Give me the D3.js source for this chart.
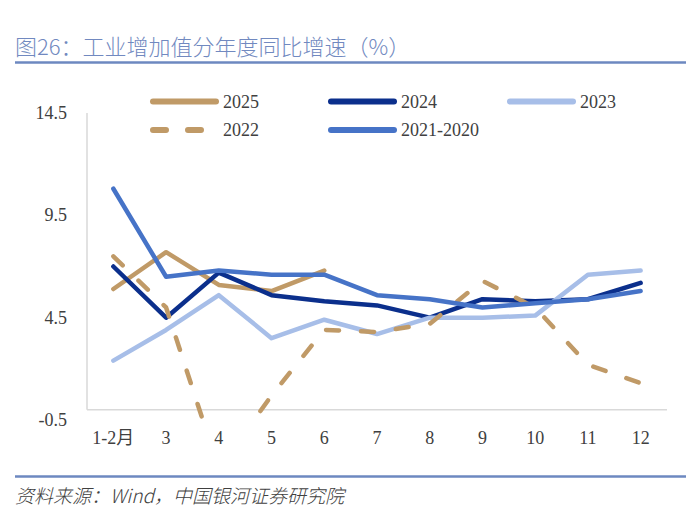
<!DOCTYPE html>
<html>
<head>
<meta charset="utf-8">
<script src="https://cdn.jsdelivr.net/npm/d3@7"></script>
<style>
  body { margin: 0; background: #fff; }
  svg { display: block; }
</style>
</head>
<body>
<div id="chart"></div>
<script>
// Data
const months = ["1-2月", "3", "4", "5", "6", "7", "8", "9", "10", "11", "12"];
const s2025 = [5.9, 7.7, 6.1, 5.8, 6.8, null, null, null, null, null, null];
const s2024 = [7.0, 4.5, 6.7, 5.6, 5.3, 5.1, 4.5, 5.4, 5.3, 5.4, 6.2];
const s2023 = [2.4, 3.9, 5.6, 3.5, 4.4, 3.7, 4.5, 4.5, 4.6, 6.6, 6.8];
const s2022 = [7.5, 5.0, -2.9, 0.7, 3.9, 3.8, 4.2, 6.3, 5.0, 2.2, 1.3];
const s2021 = [10.8, 6.5, 6.8, 6.6, 6.6, 5.6, 5.4, 5.0, 5.2, 5.4, 5.8];
const yTicks = [14.5, 9.5, 4.5, -0.5];

const series = [
    { name: "2025", values: s2025, color: "#C09A67", dash: null },
    { name: "2024", values: s2024, color: "#0B2F8C", dash: null },
    { name: "2023", values: s2023, color: "#A7BEE8", dash: null },
    { name: "2022", values: s2022, color: "#C09A67", dash: "13 22" },
    { name: "2021-2020", values: s2021, color: "#4673C7", dash: null }
];

const width = 700, height = 520;
const plot = { left: 87, right: 667, top: 113, bottom: 420 };
const numFont = "'Liberation Serif', 'Noto Sans CJK SC', serif";

const svg = d3.select("#chart").append("svg")
    .attr("width", width)
    .attr("height", height);

// Title and frame lines
svg.append("text")
    .attr("x", 15)
    .attr("y", 45)
    .attr("dominant-baseline", "central")
    .style("font-family", "'Noto Sans CJK SC', sans-serif")
    .style("font-size", "22px")
    .style("font-weight", "300")
    .style("fill", "#7189C0")
    .text("图26：工业增加值分年度同比增速（%）");

svg.append("line")
    .attr("x1", 15).attr("x2", 686)
    .attr("y1", 62.5).attr("y2", 62.5)
    .style("stroke", "#6D88C0")
    .style("stroke-width", 2.5);

svg.append("line")
    .attr("x1", 15).attr("x2", 686)
    .attr("y1", 476.5).attr("y2", 476.5)
    .style("stroke", "#6D88C0")
    .style("stroke-width", 2.5);

svg.append("text")
    .attr("x", 15)
    .attr("y", 494)
    .attr("dominant-baseline", "central")
    .style("font-family", "'Noto Sans CJK SC', sans-serif")
    .style("font-size", "19px")
    .style("font-style", "italic")
    .style("font-weight", "300")
    .style("fill", "#404040")
    .text("资料来源：Wind，中国银河证券研究院");

// Scales
const x = d3.scalePoint()
    .domain(months)
    .range([plot.left, plot.right])
    .padding(0.5);

const y = d3.scaleLinear()
    .domain([-0.5, 14.5])
    .range([plot.bottom, plot.top]);

// Axes
svg.append("line")
    .attr("x1", plot.left).attr("x2", plot.left)
    .attr("y1", plot.top).attr("y2", y(0))
    .style("stroke", "#D9D9D9")
    .style("stroke-width", 1.5);

svg.append("line")
    .attr("x1", plot.left).attr("x2", plot.right)
    .attr("y1", y(0)).attr("y2", y(0))
    .style("stroke", "#D9D9D9")
    .style("stroke-width", 1.5);

svg.selectAll(".ytick")
    .data(yTicks)
    .enter().append("text")
    .attr("class", "ytick")
    .attr("x", 67)
    .attr("y", d => y(d))
    .attr("text-anchor", "end")
    .attr("dominant-baseline", "central")
    .style("font-family", numFont)
    .style("font-size", "18px")
    .style("fill", "#404040")
    .text(d => d);

svg.selectAll(".xtick")
    .data(months)
    .enter().append("text")
    .attr("class", "xtick")
    .attr("x", d => x(d))
    .attr("y", 438)
    .attr("text-anchor", "middle")
    .attr("dominant-baseline", "central")
    .style("font-family", numFont)
    .style("font-size", "18px")
    .style("fill", "#404040")
    .text(d => d);

// Clip so the April 2022 dip is cut at the plot bottom
svg.append("clipPath")
    .attr("id", "plotClip")
    .append("rect")
    .attr("x", plot.left)
    .attr("y", plot.top - 20)
    .attr("width", plot.right - plot.left)
    .attr("height", plot.bottom - plot.top + 20);

const line = d3.line()
    .defined(d => d != null)
    .x((d, i) => x(months[i]))
    .y(d => y(d));

const lines = svg.append("g").attr("clip-path", "url(#plotClip)");

series.forEach(s => {
    lines.append("path")
        .datum(s.values)
        .attr("d", line)
        .style("fill", "none")
        .style("stroke", s.color)
        .style("stroke-width", 4.5)
        .style("stroke-linejoin", "round")
        .style("stroke-linecap", "round")
        .style("stroke-dasharray", s.dash);
});

// Legend
const legendPos = [
    { x: 150, y: 101.5 },
    { x: 328, y: 101.5 },
    { x: 507, y: 101.5 },
    { x: 150, y: 130 },
    { x: 328, y: 130 }
];

const legend = svg.selectAll(".legend")
    .data(series)
    .enter().append("g")
    .attr("class", "legend")
    .attr("transform", (d, i) => `translate(${legendPos[i].x}, ${legendPos[i].y})`);

legend.append("line")
    .attr("x1", 3).attr("x2", 66)
    .attr("y1", 0).attr("y2", 0)
    .style("stroke", d => d.color)
    .style("stroke-width", 6)
    .style("stroke-linecap", "round")
    .style("stroke-dasharray", d => d.dash);

legend.append("text")
    .attr("x", 73)
    .attr("y", 0)
    .attr("dominant-baseline", "central")
    .style("font-family", numFont)
    .style("font-size", "18px")
    .style("fill", "#404040")
    .text(d => d.name);
</script>
</body>
</html>
